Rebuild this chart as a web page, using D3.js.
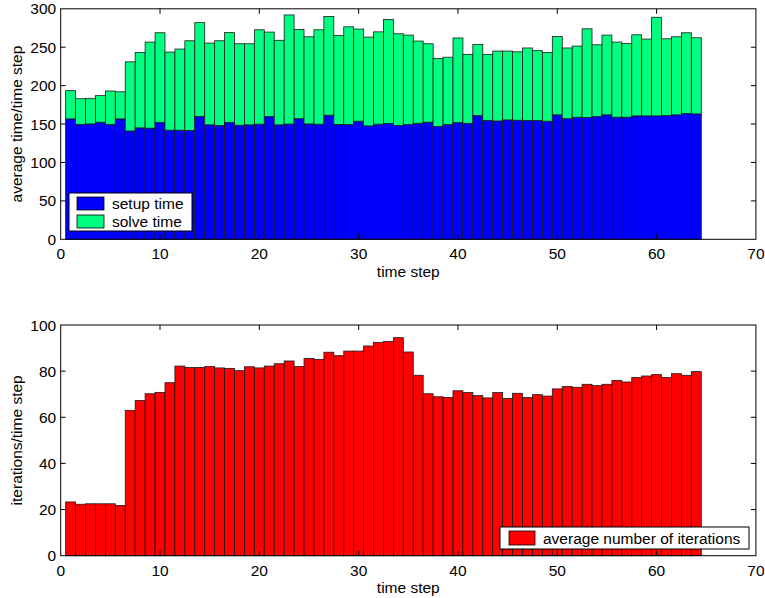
<!DOCTYPE html>
<html><head><meta charset="utf-8">
<script src="https://cdn.jsdelivr.net/npm/d3@7"></script>
<style>
body{margin:0;background:#fff;}
text{font-family:"Liberation Sans",Arial,Helvetica,sans-serif;}
</style></head>
<body><svg id="c" width="765" height="598"></svg>
<script>
const steps = d3.range(1, 65);
const setupTime = [156.7,149.4,150.2,152.4,149.4,156.7,141,145,144.6,152,142,142,141.6,160,149,148,152,148.5,149,149.8,159.7,149,150,157,150.2,149.8,161.5,149.4,149.4,153.7,147.6,149.8,150.6,148,149.4,151,152.4,146.8,149.4,152,151,161,154.5,154,155.4,155,154.5,154.5,153.7,162,157,158.9,158.4,159.7,162,158.9,158.9,160.6,160.6,160.6,161,162,163.6,163.2];
const totalTime = [193.5,183,183.5,187,193,192,231,243,256.7,268.8,243.7,247.6,258.4,282,255.4,258.4,269,254.5,254.5,272.7,269.7,259,292,273,263.6,272.7,290,265.4,276.6,273.6,263.2,270,286,267.5,265.8,258,254.5,235.5,237,262,240.7,253.7,240.7,245,245,244,249,245.5,243,264,249,251.5,274,253.2,265.8,256.7,255,266.2,260.6,289,261,263.6,268.8,262.3];
const solveTime = totalTime.map((t,i)=>+(t-setupTime[i]).toFixed(1));
const iterations = [23.3,22.3,22.5,22.5,22.5,21.8,63,67.3,70.2,70.8,75,82.2,81.6,81.6,82,81.4,81.2,80.2,81.9,81.4,82.2,83.2,84.4,82,85.5,85.1,88.2,86.7,88.7,88.7,90.9,92.5,92.9,94.5,88.3,78.2,70.2,68.9,68.6,71.5,70.7,69.4,68.4,70.7,68.2,70.4,68.6,69.8,69.2,72.3,73.3,73,74.3,73.7,74.3,76,75.3,77.2,77.9,78.5,77.2,78.9,78.2,79.8];
const xTicks = [0,10,20,30,40,50,60,70];
const yTicksTop = [0,50,100,150,200,250,300];
const yTicksBot = [0,20,40,60,80,100];

const svg = d3.select("#c");
const X0 = 60.7, X1 = 755.9;
const x = d3.scaleLinear().domain([0,70]).range([X0,X1]);
const FS = 15.5;

function frame(y, top, bottom, yTicks, ylabel){
  const g = svg.append("g");
  xTicks.forEach(t=>{
    if(t>0 && t<70){
      g.append("line").attr("x1",x(t)).attr("x2",x(t)).attr("y1",bottom).attr("y2",bottom-5).attr("stroke","#000");
      g.append("line").attr("x1",x(t)).attr("x2",x(t)).attr("y1",top).attr("y2",top+5).attr("stroke","#000");
    }
    g.append("text").attr("x",x(t)).attr("y",bottom+20).attr("text-anchor","middle").attr("font-size",FS).text(t);
  });
  yTicks.forEach(t=>{
    if(t>y.domain()[0] && t<y.domain()[1]){
      g.append("line").attr("x1",X0).attr("x2",X0+5).attr("y1",y(t)).attr("y2",y(t)).attr("stroke","#000");
      g.append("line").attr("x1",X1).attr("x2",X1-5).attr("y1",y(t)).attr("y2",y(t)).attr("stroke","#000");
    }
    g.append("text").attr("x",X0-4.5).attr("y",y(t)+5.5).attr("text-anchor","end").attr("font-size",FS).text(t);
  });
  g.append("rect").attr("x",X0).attr("y",top).attr("width",X1-X0).attr("height",bottom-top)
    .attr("fill","none").attr("stroke","#000").attr("stroke-width",1);
  g.append("text").attr("x",x(35)).attr("y",bottom+37.5).attr("text-anchor","middle").attr("font-size",FS).text("time step");
  g.append("text").attr("transform",`translate(22,${(top+bottom)/2}) rotate(-90)`).attr("text-anchor","middle").attr("font-size",FS).text(ylabel);
}

// top chart
const yT = d3.scaleLinear().domain([0,300]).range([239.3,8.8]);
const gT = svg.append("g");
steps.forEach((s,i)=>{
  gT.append("rect").attr("x",x(s-0.5)).attr("width",x(1)-x(0)).attr("y",yT(setupTime[i])).attr("height",yT(0)-yT(setupTime[i]))
    .attr("fill","#0000ff").attr("stroke","#1a1a1a").attr("stroke-width",0.8);
  gT.append("rect").attr("x",x(s-0.5)).attr("width",x(1)-x(0)).attr("y",yT(setupTime[i]+solveTime[i])).attr("height",yT(setupTime[i])-yT(setupTime[i]+solveTime[i]))
    .attr("fill","#00ff80").attr("stroke","#1a1a1a").attr("stroke-width",0.8);
});
frame(yT, 8.8, 239.3, yTicksTop, "average time/time step");
const lg = svg.append("g");
lg.append("rect").attr("x",69).attr("y",193).attr("width",123).attr("height",38).attr("fill","#fff").attr("stroke","#000");
lg.append("rect").attr("x",77).attr("y",197).attr("width",27).attr("height",13).attr("fill","#0000ff").attr("stroke","#000").attr("stroke-width",0.8);
lg.append("rect").attr("x",77).attr("y",215).attr("width",27).attr("height",13).attr("fill","#00ff80").attr("stroke","#000").attr("stroke-width",0.8);
lg.append("text").attr("x",112).attr("y",209).attr("font-size",FS).text("setup time");
lg.append("text").attr("x",112).attr("y",227).attr("font-size",FS).text("solve time");

// bottom chart
const yB = d3.scaleLinear().domain([0,100]).range([555.7,325]);
const gB = svg.append("g");
steps.forEach((s,i)=>{
  gB.append("rect").attr("x",x(s-0.5)).attr("width",x(1)-x(0)).attr("y",yB(iterations[i])).attr("height",yB(0)-yB(iterations[i]))
    .attr("fill","#ff0000").attr("stroke","#1a1a1a").attr("stroke-width",0.8);
});
frame(yB, 325, 555.7, yTicksBot, "iterations/time step");
const lb = svg.append("g");
lb.append("rect").attr("x",500).attr("y",527).attr("width",249).attr("height",22).attr("fill","#fff").attr("stroke","#000");
lb.append("rect").attr("x",509).attr("y",531).attr("width",26).attr("height",14).attr("fill","#ff0000").attr("stroke","#000").attr("stroke-width",0.8);
lb.append("text").attr("x",543).attr("y",544).attr("font-size",FS).text("average number of iterations");
</script></body></html>
